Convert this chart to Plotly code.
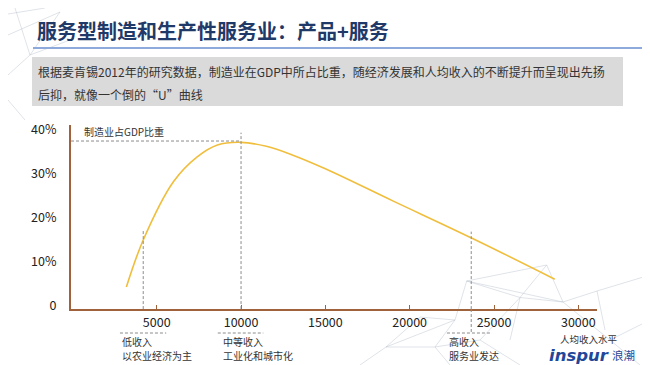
import plotly.graph_objects as go

# ---------------- data ----------------
income = [3200, 4200, 6000, 7400, 8600, 10000, 11500, 13000, 15000, 19000, 23700, 28600]
share = [4.3, 15.0, 28.3, 33.9, 36.6, 37.2, 36.3, 34.4, 31.2, 23.9, 15.4, 6.1]
series_name = "制造业占GDP比重"

x_tick_vals = [5000, 10000, 15000, 20000, 25000, 30000]
x_tick_text = ["5000", "10000", "15000", "20000", "25000", "30000"]
y_tick_vals = [0, 10, 20, 30, 40]
y_tick_text = ["0", "10%", "20%", "30%", "40%"]

stage_x = [4200, 10000, 23650]          # vertical reference lines
stage_top = [17.3, 39.4, 16.9]
peak_share = 37.5
stage_labels = [("低收入", "以农业经济为主"), ("中等收入", "工业化和城市化"), ("高收入", "服务业发达")]
stage_label_x = [2900, 8850, 22300]
stage_dash_span = [(2820, 5560), (8620, 11320), (22210, 24880)]

title = "服务型制造和生产性服务业：产品+服务"
desc1 = "根据麦肯锡2012年的研究数据，制造业在GDP中所占比重，随经济发展和人均收入的不断提升而呈现出先扬"
desc2 = "后抑，就像一个倒的“U”曲线"

# ---------------- layout geometry ----------------
# the page body has an 8px margin, so the figure is offset by 8px
OFF = 8
W, H = 642, 357
L, R, T, B = 63, 53, 117, 56
PW, PH = W - L - R, H - T - B


def px(xp):
    """page pixel x -> paper coordinate"""
    return (xp - OFF - L) / PW


def py(yp):
    """page pixel y -> paper coordinate"""
    return (H - B - (yp - OFF)) / PH


CJK = "Noto Sans CJK SC"
AXIS = "#A0623A"
GOLD = "#F0BE3C"
DASH = "#8C8C8C"

fig = go.Figure()
fig.add_trace(go.Scatter(
    x=income, y=share, mode="lines", name=series_name,
    line=dict(color=GOLD, width=1.6, shape="spline", smoothing=1.0),
    hoverinfo="skip", showlegend=False,
))

shapes = []
annotations = []

# background network decoration (faint)
net_col = "rgba(185,192,205,0.45)"
edges = [
    # bottom-right cluster
    ((466.7, 281), (546.7, 265)), ((466.7, 281), (520, 297.5)), ((466.7, 281), (563, 302)),
    ((546.7, 265), (520, 297.5)), ((546.7, 265), (563, 302)), ((520, 297.5), (563, 302)),
    ((563, 302), (597, 291)), ((597, 291), (605, 330)), ((597, 291), (650, 275)),
    ((466.7, 281), (455, 320)), ((520, 297.5), (480, 340)), ((563, 302), (610, 340)),
    ((455, 320), (386, 347)), ((455, 320), (435, 347)), ((420, 317), (386, 347)),
    ((420, 317), (455, 320)), ((386, 347), (435, 347)), ((435, 347), (480, 340)),
    ((480, 340), (520, 365)), ((610, 340), (650, 320)), ((610, 340), (640, 365)),
    ((386, 347), (360, 365)), ((435, 347), (450, 365)), ((520, 297.5), (510, 340)),
    # top-left cluster
    ((8, 14), (45, 8)), ((8, 35), (60, 12)), ((15, 8), (30, 55)), ((30, 55), (8, 75)),
    ((60, 12), (30, 55)), ((8, 100), (25, 120)), ((30, 55), (70, 40)),
]
for (a, b) in edges:
    shapes.append(dict(type="line", xref="paper", yref="paper",
                       x0=px(a[0]), y0=py(a[1]), x1=px(b[0]), y1=py(b[1]),
                       line=dict(color=net_col, width=1), layer="below"))

# title underline
shapes.append(dict(type="line", xref="paper", yref="paper",
                   x0=px(33), x1=px(650), y0=py(48), y1=py(48),
                   line=dict(color="#8EA9DB", width=2)))
# description box
shapes.append(dict(type="rect", xref="paper", yref="paper",
                   x0=px(32), x1=px(623), y0=py(106), y1=py(57),
                   fillcolor="#DADADA", line=dict(width=0), layer="below"))

# peak horizontal dashed line
shapes.append(dict(type="line", xref="x", yref="y",
                   x0=-83, x1=stage_x[1], y0=peak_share, y1=peak_share,
                   line=dict(color=DASH, width=1, dash="3px,2px")))
# vertical dashed lines
for sx, top in zip(stage_x, stage_top):
    shapes.append(dict(type="line", xref="x", yref="y",
                       x0=sx, x1=sx, y0=-0.7, y1=top,
                       line=dict(color=DASH, width=1, dash="3px,2px")))
shapes.append(dict(type="line", xref="x", yref="paper",
                   x0=stage_x[2], x1=stage_x[2], y0=0, y1=py(333),
                   line=dict(color=DASH, width=1, dash="3px,2px")))
# dashed separators under tick labels
for (a, b) in stage_dash_span:
    shapes.append(dict(type="line", xref="x", yref="paper",
                       x0=a, x1=b, y0=py(333), y1=py(333),
                       line=dict(color=DASH, width=1, dash="3px,2px")))


def note(text, x, y, size, color="#333333", xref="paper", xanchor="left", family=CJK):
    annotations.append(dict(text=text, xref=xref, yref="paper", x=x, y=y,
                            xanchor=xanchor, yanchor="middle", showarrow=False,
                            align="left", borderpad=0,
                            font=dict(family=family, size=size, color=color)))


# texts
note(f"<b>{title}</b>", px(36), py(31), 20, "#1F3A68")
note(desc1, px(37), py(72), 12, "#333333")
note(desc2, px(37), py(94), 12, "#333333")
note(series_name, 600, py(131), 10, xref="x")
for (l1, l2), lx in zip(stage_labels, stage_label_x):
    note(l1, lx, py(341), 10, xref="x")
    note(l2, lx, py(355.5), 10, xref="x")
note("人均收入水平", px(589), py(339), 9.5, xanchor="center")
note("<b><i>inspur</i></b>", px(548), py(355), 16.5, "#22479A", family="DejaVu Sans")
note("浪潮", px(611), py(355), 11.5, "#22479A")

fig.update_layout(
    width=W, height=H,
    margin=dict(l=L, r=R, t=T, b=B, pad=0),
    paper_bgcolor="white", plot_bgcolor="rgba(0,0,0,0)",
    shapes=shapes, annotations=annotations,
    showlegend=False,
    font=dict(family=CJK, color="#222222"),
)
fig.update_xaxes(
    range=[-83, 31108], showgrid=False, zeroline=False,
    showline=True, linecolor=AXIS, linewidth=2,
    ticks="inside", ticklen=4, tickcolor=AXIS, tickwidth=1,
    tickvals=x_tick_vals, ticktext=x_tick_text,
    tickfont=dict(family=CJK, size=12.5, color="#222222"),
    ticklabelstandoff=1,
)
fig.update_yaxes(
    range=[-0.68, 41.14], showgrid=False, zeroline=False,
    showline=True, linecolor=AXIS, linewidth=2, ticks="",
    tickvals=y_tick_vals, ticktext=y_tick_text,
    tickfont=dict(family=CJK, size=12.5, color="#222222"),
    ticklabelstandoff=10,
)

fig.write_html("out.html")
